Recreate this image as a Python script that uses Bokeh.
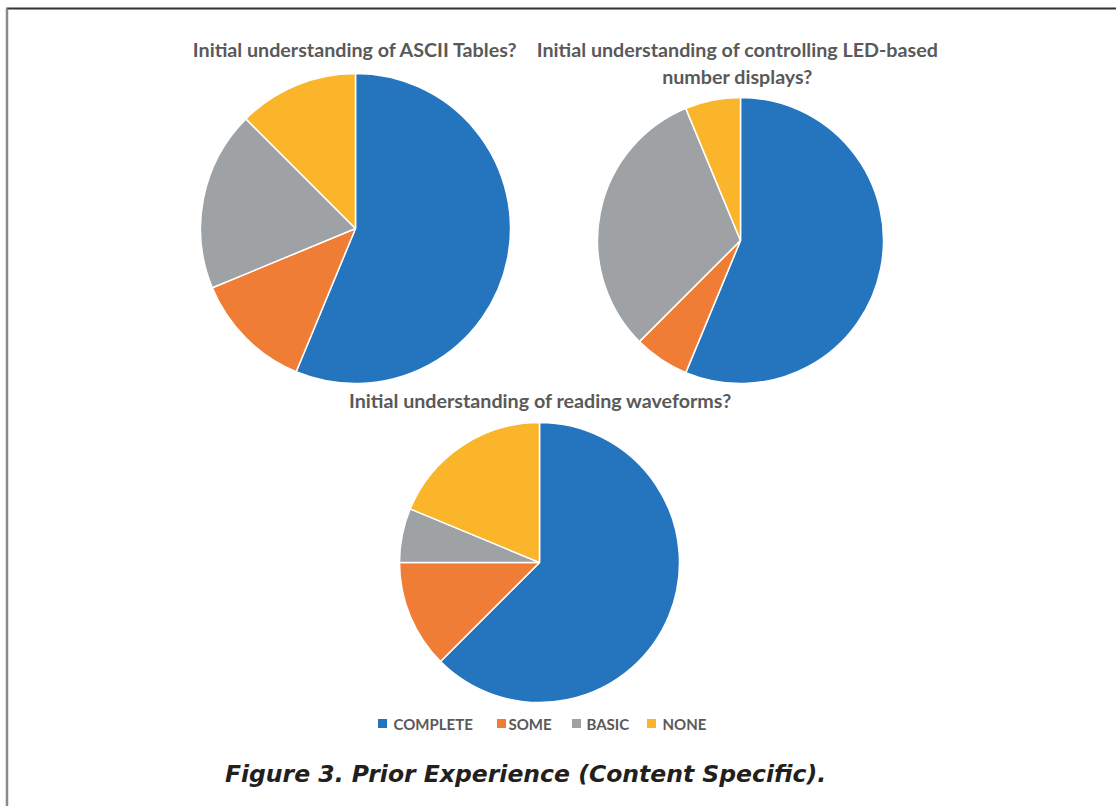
import numpy as np
from bokeh.plotting import figure
from bokeh.models import Range1d, ColumnDataSource
from bokeh.core.properties import value
from bokeh.embed import file_html
from bokeh.resources import INLINE

W, H = 1116, 806

# Survey answers (number of students per level)
categories = ["COMPLETE", "SOME", "BASIC", "NONE"]
colors = ["#2475BE", "#EF7D35", "#9EA2A5", "#FBB52A"]
ascii_tables = [9, 2, 3, 2]
led_displays = [9, 1, 5, 1]
waveforms = [10, 2, 1, 3]

titles = [
    ["Initial understanding of ASCII Tables?"],
    ["Initial understanding of controlling LED-based", "number displays?"],
    ["Initial understanding of reading waveforms?"],
]
caption = "Figure 3. Prior Experience (Content Specific)."

p = figure(width=W, height=H, x_range=Range1d(0, W), y_range=Range1d(0, H),
           x_axis_type=None, y_axis_type=None, toolbar_location=None,
           output_backend="svg", min_border=0)
p.outline_line_color = None
p.grid.visible = False
p.background_fill_color = "white"


def pie(counts, cx, cy, r):
    counts = np.asarray(counts, dtype=float)
    frac = counts / counts.sum()
    cum = np.concatenate([[0.0], np.cumsum(frac)])
    start = np.pi / 2 - cum[:-1] * 2 * np.pi
    end = np.pi / 2 - cum[1:] * 2 * np.pi
    src = ColumnDataSource(dict(start=start, end=end, color=colors,
                                cat=categories))
    p.wedge(x=cx, y=H - cy, radius=r, start_angle="start", end_angle="end",
            direction="clock", fill_color="color", line_color="white",
            line_width=1.5, source=src)


pie(ascii_tables, 355, 228, 155)
pie(led_displays, 740, 240, 143)
pie(waveforms, 539, 562, 140)

title_kw = dict(text_font=value("Lato"), text_font_style="bold",
                text_font_size="19.7px", text_color="#595959",
                text_align="center", text_baseline="middle")
p.text(x=[355], y=[H - 49], text=titles[0], **title_kw)
p.text(x=[737, 737], y=[H - 49, H - 76], text=titles[1], **title_kw)
p.text(x=[540], y=[H - 400], text=titles[2], **title_kw)

# Legend row
sq_x = [382, 501, 576, 651]
lab_x = [393, 508, 586, 662]
p.scatter(x=sq_x, y=[H - 723] * 4, marker="square", size=9,
          fill_color=colors, line_color=None)
p.text(x=lab_x, y=[H - 723] * 4, text=categories,
       text_font=value("Lato"), text_font_style="bold",
       text_font_size="15px", text_color="#595959",
       text_align="left", text_baseline="middle")

# Caption
p.text(x=[525], y=[H - 773], text=[caption], text_font=value("DejaVu Sans"),
       text_font_style="bold italic", text_font_size="23.5px",
       text_color="#231F20", text_align="center", text_baseline="middle")

# Frame rules
p.line(x=[6, W], y=[H - 8, H - 8], line_color="#333333", line_width=2)
p.line(x=[6.5, 6.5], y=[H - 8, 0], line_color="#8A8A8A", line_width=2.5)

open("out.html", "w").write(file_html(p, INLINE))
